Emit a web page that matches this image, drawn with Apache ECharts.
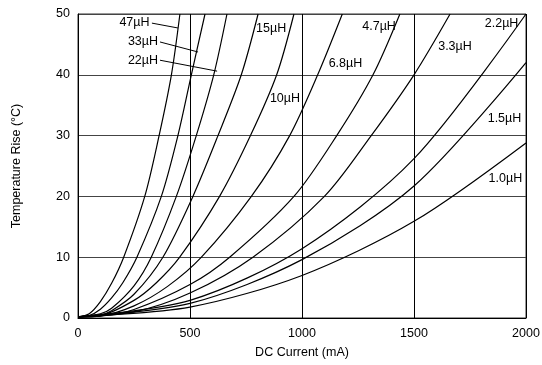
<!DOCTYPE html>
<html lang="en">
<head>
    <meta charset="UTF-8">
    <title>Temperature Rise vs DC Current</title>
    <script src="https://cdn.jsdelivr.net/npm/echarts@6.0.0/dist/echarts.min.js"></script>
    <style>
        html, body { margin: 0; padding: 0; background: #fff; }
        #main { width: 542px; height: 365px; }
    </style>
</head>
<body>
    <div id="main"></div>

    <script>
        // [mA, °C] points
        const curve47 = [[0, 0.2], [50, 0.7], [100, 2.7], [150, 5.7], [204, 10], [298, 20], [362, 30], [417, 40], [455, 50]];
        const curve33 = [[0, 0.2], [50, 0.4], [100, 1.45], [150, 3.3], [200, 5.8], [263, 10], [372, 20], [446, 30], [506, 40], [567, 50]];
        const curve22 = [[0, 0.2], [100, 0.7], [150, 1.6], [250, 5.3], [327, 10], [439, 20], [528, 30], [606, 40], [665, 50]];
        const curve15 = [[0, 0.2], [100, 0.5], [150, 1.2], [250, 3.9], [379, 10], [513, 20], [625, 30], [729, 40], [804, 50]];
        const curve10 = [[0, 0.2], [100, 0.4], [250, 2.9], [350, 5.8], [454, 10], [632, 20], [770, 30], [887, 40], [964, 50]];
        const curve6_8 = [[0, 0.2], [100, 0.35], [250, 2.0], [400, 5.2], [551, 10], [774, 20], [945, 30], [1070, 40], [1180, 50]];
        const curve4_7 = [[0, 0.2], [100, 0.3], [250, 1.4], [500, 5.5], [677, 10], [964, 20], [1155, 30], [1317, 40], [1437, 50]];
        const curve3_3 = [[0, 0.2], [250, 1.0], [500, 4.1], [781, 10], [1100, 20], [1309, 30], [1500, 40], [1661, 50]];
        const curve2_2 = [[0, 0.2], [500, 2.9], [1000, 11.4], [1500, 26.2], [2000, 50]];
        const curve1_5 = [[0, 0.2], [500, 2.4], [1000, 9.6], [1500, 21.7], [2000, 42]];
        const curve1_0 = [[0, 0.2], [500, 1.8], [1000, 7.0], [1500, 15.9], [2000, 28.8]];

        const curveNames = ['47µH', '33µH', '22µH', '15µH', '10µH', '6.8µH', '4.7µH', '3.3µH', '2.2µH', '1.5µH', '1.0µH'];
        const curves = [curve47, curve33, curve22, curve15, curve10, curve6_8, curve4_7, curve3_3, curve2_2, curve1_5, curve1_0];

        // where each curve label sits (data coords)
        const labelAt = [[252, 48.6], [290, 45.4], [290, 42.4], [862, 47.6], [924, 36.1], [1194, 41.9],
                         [1344, 47.9], [1683, 44.6], [1891, 48.4], [1904, 32.8], [1908, 22.9]];
        // leader lines for the crowded labels
        const leaders = [
            [[330, 48.5], [446, 47.7]],
            [[366, 45.4], [536, 43.75]],
            [[366, 42.4], [621, 40.6]]
        ];

        const xTicks = [0, 500, 1000, 1500, 2000];
        const yTicks = [0, 10, 20, 30, 40, 50];

        const font = 'Liberation Sans, Arial, Helvetica, sans-serif';
        const myChart = echarts.init(document.getElementById('main'));

        const series = curves.map((pts, i) => ({
            name: curveNames[i],
            type: 'line',
            data: pts,
            smooth: 0.3,
            showSymbol: false,
            silent: true,
            lineStyle: { color: '#000', width: 1.2 },
            animation: false
        }));

        // labels and leaders ride on the first series
        series[0].markPoint = {
            symbol: 'circle',
            symbolSize: 0,
            silent: true,
            animation: false,
            itemStyle: { color: 'rgba(0,0,0,0)' },
            label: {
                show: true,
                position: 'inside',
                color: '#000',
                fontFamily: font,
                fontSize: 12.5,
                formatter: p => p.name
            },
            data: curveNames.map((n, i) => ({ name: n, coord: labelAt[i] }))
        };
        series[0].markLine = {
            symbol: ['none', 'none'],
            silent: true,
            animation: false,
            label: { show: false },
            lineStyle: { color: '#000', width: 1, type: 'solid' },
            data: leaders.map(l => [{ coord: l[0] }, { coord: l[1] }])
        };

        myChart.setOption({
            animation: false,
            backgroundColor: '#fff',
            grid: {
                left: 78, right: 16, top: 14, bottom: 47,
                containLabel: false,
                outerBoundsMode: 'none',
                show: true,
                borderColor: '#333',
                borderWidth: 1
            },
            xAxis: {
                type: 'value',
                min: xTicks[0], max: xTicks[xTicks.length - 1], interval: 500,
                name: 'DC Current (mA)',
                nameLocation: 'middle',
                nameGap: 28,
                nameTextStyle: { color: '#000', fontFamily: font, fontSize: 12.5 },
                axisLine: { show: true, lineStyle: { color: '#000', width: 1 } },
                axisTick: { show: false },
                axisLabel: { color: '#000', fontFamily: font, fontSize: 12.5, margin: 9, formatter: v => String(v) },
                splitLine: { show: true, lineStyle: { color: '#000', width: 1 } }
            },
            yAxis: {
                type: 'value',
                min: yTicks[0], max: yTicks[yTicks.length - 1], interval: 10,
                name: 'Temperature Rise (°C)',
                nameLocation: 'middle',
                nameGap: 55,
                nameTextStyle: { color: '#000', fontFamily: font, fontSize: 12.5 },
                axisLine: { show: true, lineStyle: { color: '#000', width: 1 } },
                axisTick: { show: false },
                axisLabel: { color: '#000', fontFamily: font, fontSize: 12.5, margin: 8 },
                splitLine: { show: true, lineStyle: { color: '#444', width: 1 } }
            },
            series: series
        });
    </script>
</body>
</html>
